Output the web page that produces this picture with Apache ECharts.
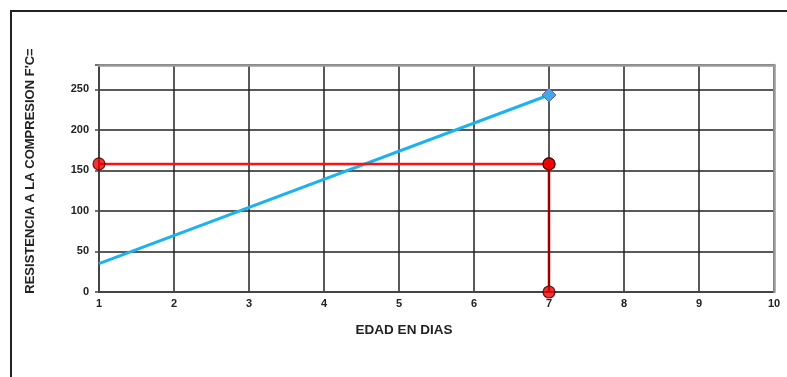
<!DOCTYPE html>
<html>
<head>
<meta charset="utf-8">
<script src="https://cdn.jsdelivr.net/npm/echarts@6/dist/echarts.min.js"></script>
<style>html,body{margin:0;padding:0;background:#fff}#c{width:787px;height:377px}</style>
</head>
<body>
<div id="c"></div>
<script>
// Data
const blueX = [1, 7];
const blueY = [35, 243];
const redHX = [1, 7];
const redHY = [158, 158];
const redVX = [7, 7];
const redVY = [158, 0];
const xTicks = [1, 2, 3, 4, 5, 6, 7, 8, 9, 10];
const yTicks = [0, 50, 100, 150, 200, 250];
const yTitle = "RESISTENCIA A LA COMPRESION F'C=";
const xTitle = "EDAD EN DIAS";

const chart = echarts.init(document.getElementById('c'), null, {renderer: 'canvas'});
const font = 'Liberation Sans, Arial, sans-serif';
const pts = (xs, ys) => xs.map((x, i) => [x, ys[i]]);

const blueData = pts(blueX, blueY).map((p, i, a) => ({
  value: p,
  symbol: i === a.length - 1 ? 'diamond' : 'none'
}));
const redMarkers = pts(redHX, redHY).concat(pts(redVX, redVY));

chart.setOption({
  animation: false,
  backgroundColor: '#fff',
  grid: {left: 99, right: 13, top: 65, bottom: 85},
  xAxis: [{
    type: 'value', min: xTicks[0], max: xTicks[xTicks.length - 1], interval: 1,
    axisLine: {lineStyle: {color: '#444', width: 2}},
    axisTick: {show: false},
    splitLine: {show: true, lineStyle: {color: '#222', width: 1.5}},
    axisLabel: {color: '#222', fontFamily: font, fontWeight: 'bold', fontSize: 11, margin: 6,
      formatter: v => xTicks.includes(v) ? String(v) : ''}
  }, {
    type: 'value', position: 'top', min: xTicks[0], max: xTicks[xTicks.length - 1], z: 5,
    axisLine: {show: true, onZero: false, lineStyle: {color: '#999', width: 2.5}},
    axisTick: {show: false}, axisLabel: {show: false}, splitLine: {show: false}
  }],
  yAxis: [{
    type: 'value', min: 0, max: 280, interval: 50,
    axisLine: {show: true, lineStyle: {color: '#444', width: 2}},
    axisTick: {show: true, length: 4, lineStyle: {color: '#444', width: 1.5}},
    splitLine: {show: true, lineStyle: {color: '#222', width: 1.5}},
    axisLabel: {color: '#222', fontFamily: font, fontWeight: 'bold', fontSize: 11, margin: 10,
      formatter: v => yTicks.includes(v) ? String(v) : ''}
  }, {
    type: 'value', position: 'right', min: 0, max: 280, z: 5,
    axisLine: {show: true, onZero: false, lineStyle: {color: '#999', width: 2.5}},
    axisTick: {show: false}, axisLabel: {show: false}, splitLine: {show: false}
  }],
  series: [{
    type: 'line', data: blueData, z: 3,
    lineStyle: {color: '#1db2ec', width: 3},
    symbolSize: 14,
    itemStyle: {color: '#4aa6e0', borderColor: '#6a63a8', borderWidth: 1}
  }, {
    type: 'line', data: pts(redHX, redHY), symbol: 'none', z: 3,
    lineStyle: {color: '#ff1010', width: 2.5}
  }, {
    type: 'line', data: pts(redVX, redVY), symbol: 'none', z: 3,
    lineStyle: {color: '#9a0000', width: 2.5}
  }, {
    type: 'scatter', data: redMarkers, z: 6, symbol: 'circle', symbolSize: 12,
    itemStyle: {color: '#ee0000', borderColor: '#3a0000', borderWidth: 1.2}
  }],
  graphic: [
    {type: 'line', shape: {x1: 10, y1: 11, x2: 787, y2: 11}, style: {stroke: '#222', lineWidth: 2}},
    {type: 'line', shape: {x1: 11, y1: 11, x2: 11, y2: 377}, style: {stroke: '#222', lineWidth: 2}},
    {type: 'text', x: 404, y: 330, style: {text: xTitle, font: 'bold 13.5px ' + font, fill: '#222',
      textAlign: 'center', textVerticalAlign: 'middle'}},
    {type: 'text', x: 30, y: 171, rotation: Math.PI / 2, style: {text: yTitle, font: 'bold 13px ' + font,
      fill: '#222', textAlign: 'center', textVerticalAlign: 'middle'}}
  ]
});
</script>
</body>
</html>
